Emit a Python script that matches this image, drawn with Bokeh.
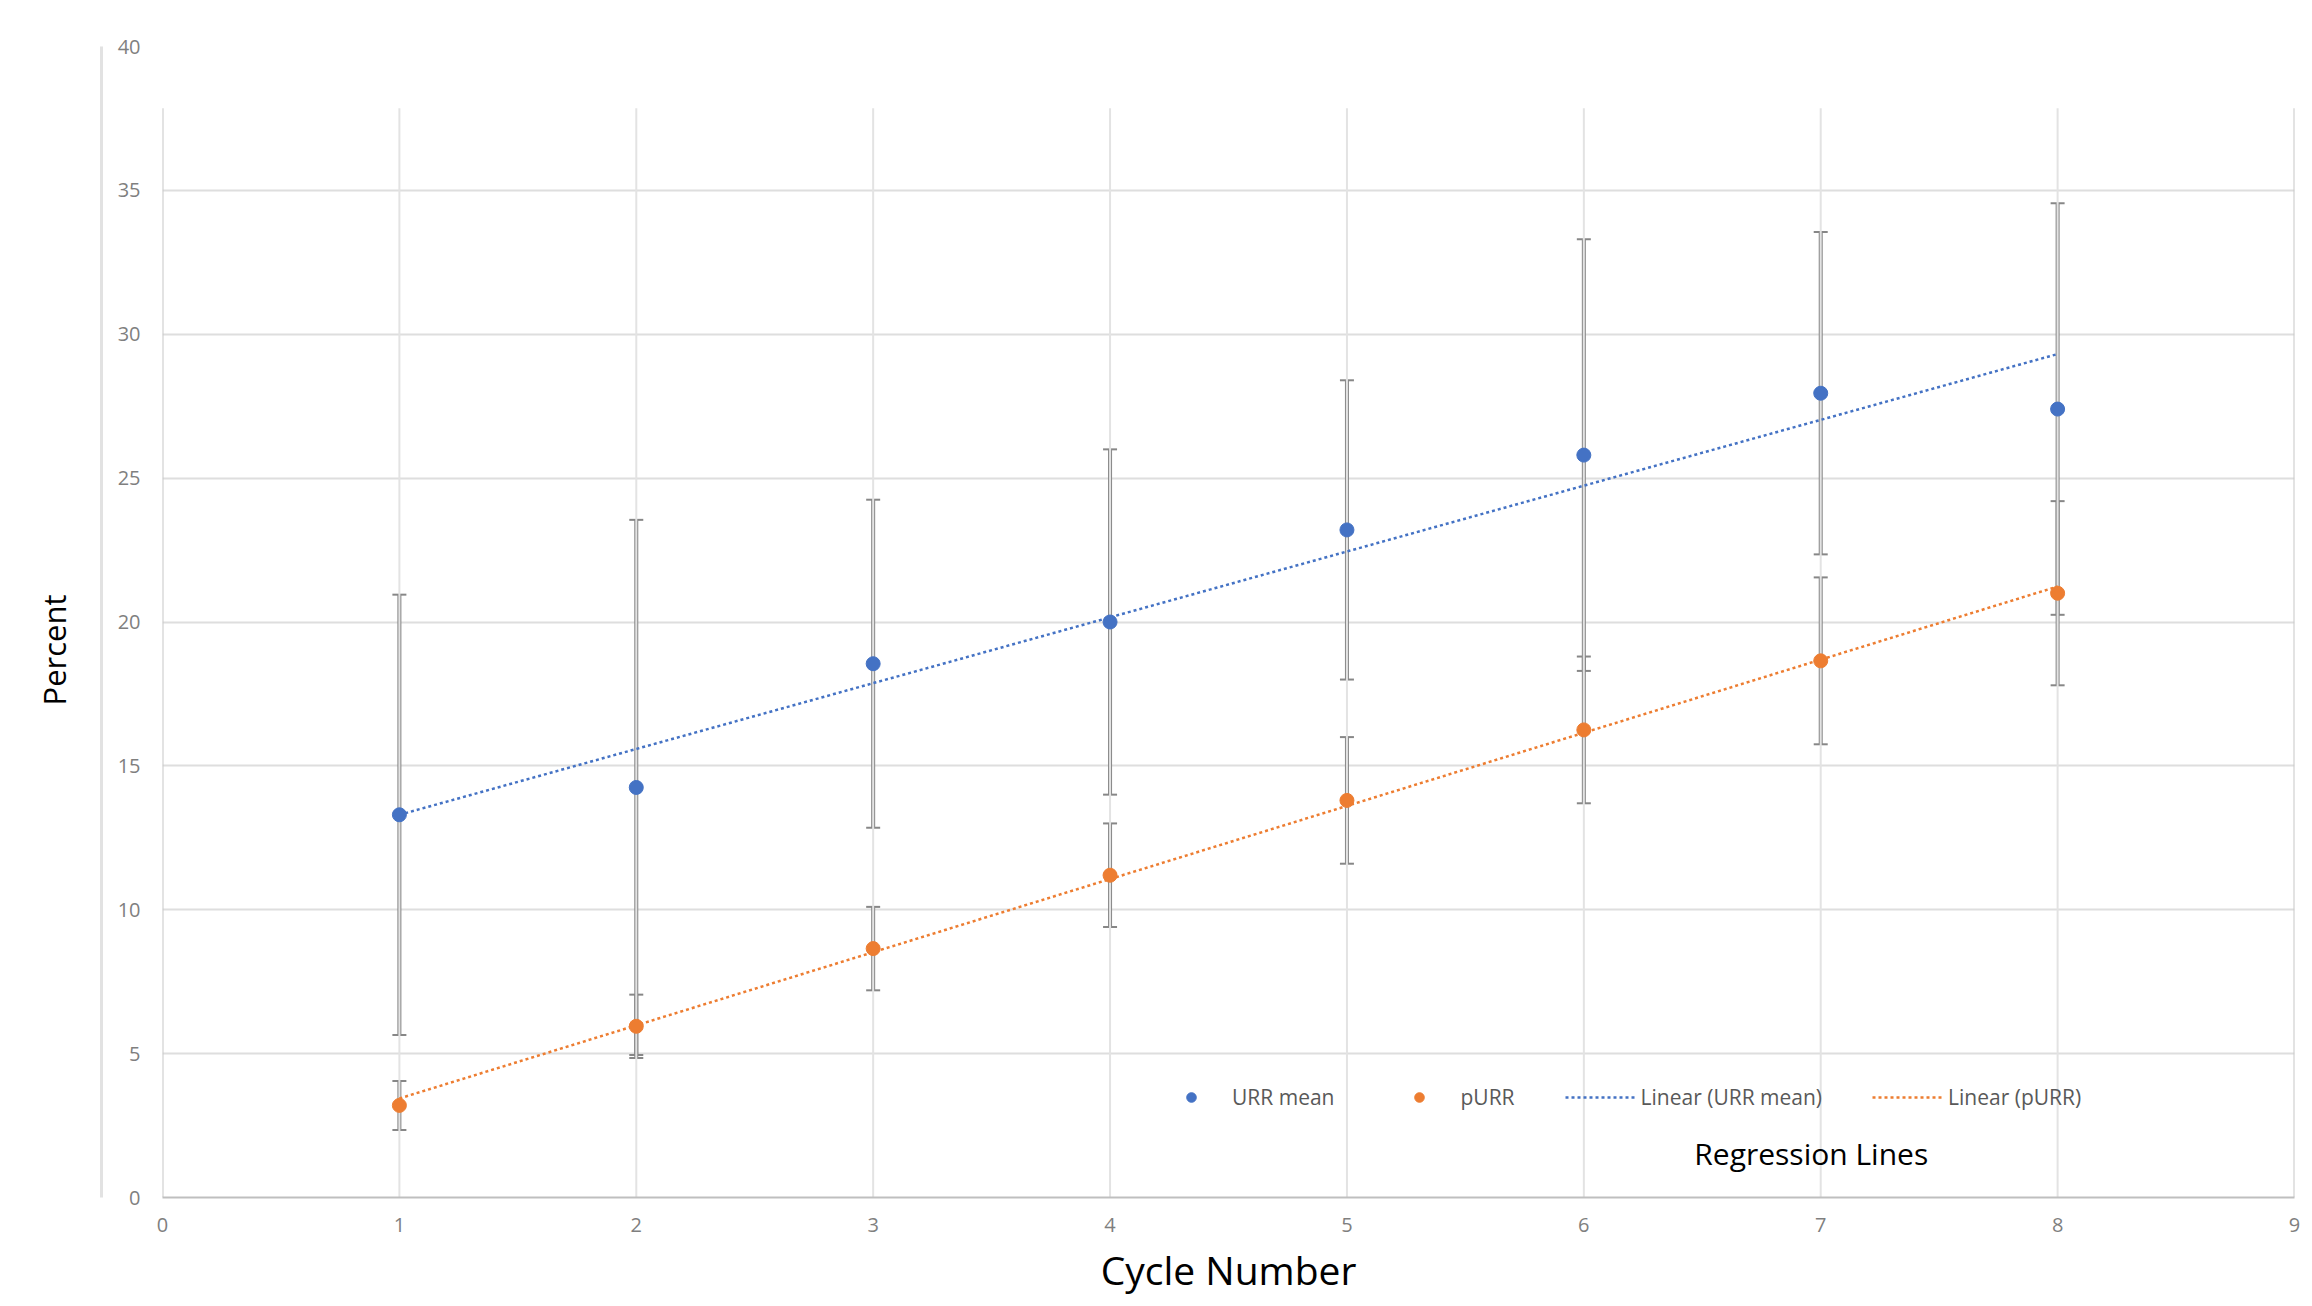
import numpy as np
from bokeh.plotting import figure
from bokeh.models import (Range1d, ColumnDataSource, Whisker, TeeHead, Legend,
                          LegendItem, Label, LinearAxis, FixedTicker, Title)
from bokeh.embed import file_html
from bokeh.resources import INLINE

# ---- data ----
cycles = [1, 2, 3, 4, 5, 6, 7, 8]
urr_mean = [13.3, 14.25, 18.55, 20.0, 23.2, 25.8, 27.95, 27.4]
urr_sd = [7.65, 9.3, 5.7, 6.0, 5.2, 7.5, 5.6, 7.15]
purr_mean = [3.2, 5.95, 8.65, 11.2, 13.8, 16.25, 18.65, 21.0]
purr_sd = [0.85, 1.1, 1.45, 1.8, 2.2, 2.55, 2.9, 3.2]
x_ticks = list(range(0, 10))
y_ticks = list(range(0, 45, 5))
grid_top = 37.85

BLUE = "#4472C4"
ORANGE = "#ED7D31"
ERR = "#878787"
FONT = "Open Sans"

p = figure(width=2312, height=1306, output_backend="svg", toolbar_location=None,
           x_range=Range1d(0, 9), y_range=Range1d(0, 40),
           min_border_left=162, min_border_right=18, min_border_top=46,
           min_border_bottom=109)
p.outline_line_color = None
p.background_fill_color = "white"
p.border_fill_color = "white"

# axes
p.xaxis.ticker = x_ticks
p.yaxis.ticker = y_ticks
for ax in (p.xaxis[0], p.yaxis[0]):
    ax.major_tick_line_color = None
    ax.minor_tick_line_color = None
    ax.major_tick_out = 0
    ax.major_tick_in = 0
    ax.minor_tick_out = 0
    ax.major_label_text_font = FONT
    ax.major_label_text_font_size = "20px"
    ax.major_label_text_color = "#7f7f7f"
    ax.axis_label_text_font = FONT
    ax.axis_label_text_font_style = "normal"
    ax.axis_label_text_color = "#000000"
p.xaxis.axis_line_color = "#bfbfbf"
p.xaxis.axis_line_width = 2
p.yaxis.axis_line_color = None
p.xaxis.major_label_standoff = 20
p.yaxis.major_label_standoff = 22
p.xaxis.axis_label = "Cycle Number"
p.xaxis.axis_label_text_font_size = "39px"
p.xaxis.axis_label_standoff = 8

# spacer axis (width from an invisible tick), then the outer border line
spacer = LinearAxis(ticker=FixedTicker(ticks=[20]), major_label_overrides={20: ""},
                    axis_line_color=None, major_tick_line_color=None,
                    minor_tick_line_color=None, major_tick_out=13, major_tick_in=0,
                    minor_tick_out=0, major_label_standoff=0)
p.add_layout(spacer, "left")
outer = LinearAxis(ticker=FixedTicker(ticks=[]),
                   axis_line_color="#e2e2e2", axis_line_width=3,
                   major_tick_line_color=None, minor_tick_line_color=None,
                   major_tick_out=0, major_tick_in=0, minor_tick_out=0,
                   major_label_standoff=0)
p.add_layout(outer, "left")
p.add_layout(Title(text="Percent", align="left", offset=492, standoff=54,
                   text_font=FONT, text_font_size="31px", text_font_style="normal",
                   text_color="#000000"), "left")

# grid
p.xgrid.visible = False
p.ygrid.grid_line_color = "#dedede"
p.ygrid.grid_line_width = 2
inner = x_ticks[1:-1]
edges = [x_ticks[0], x_ticks[-1]]
p.segment(x0=inner, y0=[0] * len(inner), x1=inner, y1=[grid_top] * len(inner),
          line_color="#e3e3e3", line_width=2)
p.segment(x0=edges, y0=[0] * 2, x1=edges, y1=[grid_top] * 2,
          line_color="#c8c8c8", line_width=2)

# regression lines
xfit = [min(cycles), max(cycles)]
bu = np.polyfit(cycles, urr_mean, 1)
bp = np.polyfit(cycles, purr_mean, 1)
lin_u = p.line(xfit, list(np.polyval(bu, xfit)), line_color=BLUE, line_width=2.5,
               line_dash="3 3")
lin_p = p.line(xfit, list(np.polyval(bp, xfit)), line_color=ORANGE, line_width=2.5,
               line_dash="3 3")

# error bars
src_u = ColumnDataSource(dict(x=cycles, y=urr_mean,
                              lo=[m - s for m, s in zip(urr_mean, urr_sd)],
                              hi=[m + s for m, s in zip(urr_mean, urr_sd)]))
src_p = ColumnDataSource(dict(x=cycles, y=purr_mean,
                              lo=[m - s for m, s in zip(purr_mean, purr_sd)],
                              hi=[m + s for m, s in zip(purr_mean, purr_sd)]))
for src in (src_u, src_p):
    w = Whisker(source=src, base="x", upper="hi", lower="lo",
                line_color=ERR, line_width=4,
                upper_head=TeeHead(size=14, line_color=ERR, line_width=2),
                lower_head=TeeHead(size=14, line_color=ERR, line_width=2))
    p.add_layout(w)

# points
pts_u = p.scatter("x", "y", source=src_u, size=14, fill_color=BLUE, line_color=BLUE)
pts_p = p.scatter("x", "y", source=src_p, size=14, fill_color=ORANGE, line_color=ORANGE)

legend = Legend(items=[
    LegendItem(label="URR mean", renderers=[pts_u]),
    LegendItem(label="pURR", renderers=[pts_p]),
    LegendItem(label="Linear (URR mean)", renderers=[lin_u]),
    LegendItem(label="Linear (pURR)", renderers=[lin_p]),
], orientation="horizontal", location=(994, 86), padding=0, margin=0,
    spacing=50, glyph_width=70, glyph_height=24, label_height=24,
    label_standoff=6, label_text_font=FONT, label_text_font_size="21px",
    label_text_color="#595959", background_fill_alpha=0, border_line_color=None)
p.add_layout(legend)

p.add_layout(Label(x=6.96, y=1.53, text="Regression Lines", text_font=FONT,
                   text_font_size="30px", text_color="#000000",
                   text_align="center", text_baseline="middle"))

open("out.html", "w").write(file_html(p, INLINE))
